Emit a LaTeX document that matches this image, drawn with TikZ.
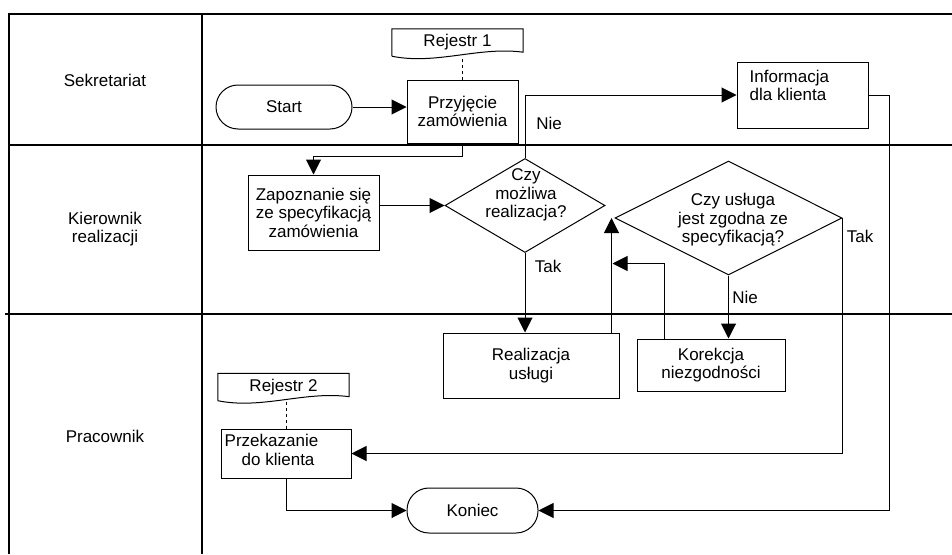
\documentclass[tikz,border=0pt]{standalone}
\usepackage{fontspec}
\setmainfont{Liberation Sans}
\usetikzlibrary{positioning,shapes.geometric,arrows.meta,calc}

\begin{document}
\begin{tikzpicture}[x=1pt, y=-1pt, >={Triangle[length=15pt,width=15pt]},
  font=\fontsize{17}{18.5}\selectfont,
  lane/.style={line width=2.2pt},
  box/.style={draw, rectangle, line width=1pt, inner sep=0pt, align=center},
  term/.style={draw, rectangle, rounded corners=22pt, line width=1pt, inner sep=0pt},
  dec/.style={draw, diamond, line width=1pt, inner sep=0pt},
  doc/.style={rectangle, inner sep=0pt, minimum width=131pt, minimum height=27pt},
  flow/.style={line width=1pt}]
  \useasboundingbox (0,0) rectangle (952,554);

  % swimlanes
  \draw[lane] (9,554) -- (9,14) -- (952,14);
  \draw[lane] (202,14) -- (202,554);
  \draw[lane] (9,145) -- (952,145);
  \draw[lane] (5,314) -- (952,314);
  \node[align=center] (lsek) at (105,80) {Sekretariat};
  \node[align=center] (lkier) at (105,229) {Kierownik\\realizacji};
  \node[align=center] (lprac) at (105,436) {Pracownik};

  % nodes
  \node[term, minimum width=136pt, minimum height=44pt] (start) at (284,107) {Start};
  \node[box, minimum width=111pt, minimum height=63pt] (przyj) at (462.5,111.5) {Przyjęcie\\zamówienia};
  \node[doc] (rej1) at (457.5,42.5) {Rejestr 1};
  \node[box, minimum width=131pt, minimum height=66pt] (info) at (802.5,95) {};
  \node[align=left, inner sep=0pt, anchor=north west] (infot) at ($(info.north west)+(13,8)$) {Informacja\\dla klienta};
  \node[box, minimum width=131pt, minimum height=75pt] (zap) at (313.5,212.5) {Zapoznanie się\\ze specyfikacją\\zamówienia};
  \node[dec, minimum width=160pt, minimum height=94pt] (d1) at (525,205.5) {};
  \node[align=center] (d1t) at (526,195) {Czy\\możliwa\\realizacja?};
  \node[dec, minimum width=227pt, minimum height=114pt] (d2) at (728.5,218) {};
  \node[align=center] (d2t) at (733,220) {Czy usługa\\jest zgodna ze\\specyfikacją?};
  \node[box, minimum width=176pt, minimum height=65pt] (real) at (531,365.5) {Realizacja\\usługi};
  \node[box, minimum width=148pt, minimum height=52pt] (kor) at (711,365) {Korekcja\\niezgodności};
  \node[doc] (rej2) at (283.5,387) {Rejestr 2};
  \node[box, minimum width=130pt, minimum height=49pt] (przek) at (286,453.5) {};
  \node[inner sep=0pt, anchor=west] (przekt) at ($(przek.west)+(4,-1)$)
    {\begin{tabular}{@{}l@{}}Przekazanie\\\hspace*{17pt}do klienta\end{tabular}};
  \node[term, minimum width=131pt, minimum height=45pt] (kon) at (472.5,510.5) {Koniec};

  % document outlines
  \draw[flow] (rej1.south west) -- (rej1.north west) -- (rej1.north east) -- ($(rej1.south east)+(0,-4)$)
    .. controls +(-44,-6) and +(44,9) .. (rej1.south west);
  \draw[flow] (rej2.south west) -- (rej2.north west) -- (rej2.north east) -- ($(rej2.south east)+(0,-4)$)
    .. controls +(-44,-6) and +(44,9) .. (rej2.south west);

  % labels
  \node (nie1) at (549,123) {Nie};
  \node (tak1) at (548,266) {Tak};
  \node (tak2) at (860,236) {Tak};
  \node (nie2) at (745,297) {Nie};

  % connectors
  \coordinate (rt) at (889,0);
  \coordinate (fb) at ($(real.north east)+(-8,0)$);
  \coordinate (kb) at ($(kor.north west)+(28,0)$);
  \draw[flow, dashed] (przyj.north) -- (przyj.north |- rej1.south);
  \draw[flow, dashed] (przek.north) -- (przek.north |- rej2.south);
  \draw[flow, ->] (start.east) -- (start.east -| przyj.west);
  \draw[flow, ->] (przyj.south) -- ++(0,13) -| (zap.north);
  \draw[flow, ->] (zap.east |- d1.west) -- (d1.west);
  \draw[flow, ->] (d1.north) |- (info.west);
  \draw[flow, ->] (info.east) -| (rt |- kon.east) -- (kon.east);
  \draw[flow, ->] (d1.south) -- (d1.south |- real.north);
  \draw[flow, ->] (fb) -- (fb |- d2.west);
  \draw[flow, ->] (kb) -- ++(0,-75) -- ++(-52,0);
  \draw[flow, ->] (d2.south) -- (d2.south |- kor.north);
  \draw[flow, ->] (d2.east) |- (przek.east);
  \draw[flow, ->] (przek.south) |- (kon.west);
\end{tikzpicture}
\end{document}
